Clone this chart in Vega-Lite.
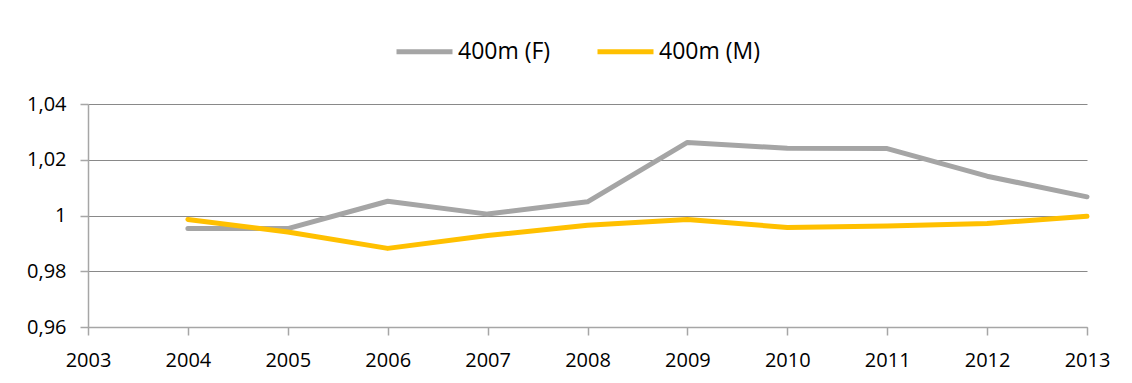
{
  "$schema": "https://vega.github.io/schema/vega-lite/v6.json",
  "width": 999,
  "height": 223,
  "autosize": {"type": "none"},
  "padding": {"left": 88, "top": 104, "right": 45, "bottom": 56},
  "background": "white",
  "data": {
    "values": [
      {"year": 2004, "series": "400m (F)", "value": 0.9953},
      {"year": 2005, "series": "400m (F)", "value": 0.9953},
      {"year": 2006, "series": "400m (F)", "value": 1.0051},
      {"year": 2007, "series": "400m (F)", "value": 1.0005},
      {"year": 2008, "series": "400m (F)", "value": 1.0049},
      {"year": 2009, "series": "400m (F)", "value": 1.0262},
      {"year": 2010, "series": "400m (F)", "value": 1.0241},
      {"year": 2011, "series": "400m (F)", "value": 1.0240},
      {"year": 2012, "series": "400m (F)", "value": 1.0141},
      {"year": 2013, "series": "400m (F)", "value": 1.0067},
      {"year": 2004, "series": "400m (M)", "value": 0.9986},
      {"year": 2005, "series": "400m (M)", "value": 0.9941},
      {"year": 2006, "series": "400m (M)", "value": 0.9882},
      {"year": 2007, "series": "400m (M)", "value": 0.9928},
      {"year": 2008, "series": "400m (M)", "value": 0.9965},
      {"year": 2009, "series": "400m (M)", "value": 0.9986},
      {"year": 2010, "series": "400m (M)", "value": 0.9957},
      {"year": 2011, "series": "400m (M)", "value": 0.9962},
      {"year": 2012, "series": "400m (M)", "value": 0.9971},
      {"year": 2013, "series": "400m (M)", "value": 0.9997}
    ]
  },
  "mark": {"type": "line", "strokeWidth": 5, "strokeCap": "round", "strokeJoin": "round"},
  "encoding": {
    "x": {
      "field": "year",
      "type": "quantitative",
      "scale": {"domain": [2003, 2013], "nice": false, "zero": false},
      "axis": {
        "values": [2003, 2004, 2005, 2006, 2007, 2008, 2009, 2010, 2011, 2012, 2013],
        "format": "d",
        "title": null,
        "grid": false,
        "domainColor": "#A6A6A6",
        "domainWidth": 1.5,
        "tickColor": "#A6A6A6",
        "tickWidth": 1.5,
        "tickSize": 8,
        "labelPadding": 15,
        "labelFont": "Open Sans",
        "labelFontSize": 20,
        "labelColor": "#000000",
        "labelFlush": false,
        "labelOverlap": false
      }
    },
    "y": {
      "field": "value",
      "type": "quantitative",
      "scale": {"domain": [0.96, 1.04], "nice": false, "zero": false},
      "axis": {
        "values": [0.96, 0.98, 1, 1.02, 1.04],
        "labelExpr": "replace(format(datum.value, '.2~f'), '.', ',')",
        "title": null,
        "grid": true,
        "gridColor": "#898989",
        "gridWidth": 1.2,
        "domainColor": "#A6A6A6",
        "domainWidth": 1.5,
        "tickColor": "#A6A6A6",
        "tickWidth": 1.5,
        "tickSize": 8,
        "labelPadding": 14,
        "labelFont": "Open Sans",
        "labelFontSize": 20,
        "labelColor": "#000000",
        "labelOverlap": false
      }
    },
    "color": {
      "field": "series",
      "type": "nominal",
      "scale": {"domain": ["400m (F)", "400m (M)"], "range": ["#A5A5A5", "#FFC000"]},
      "legend": {
        "title": null,
        "orient": "none",
        "direction": "horizontal",
        "legendX": 306,
        "legendY": -83,
        "padding": 0,
        "symbolType": "stroke",
        "symbolSize": 3136,
        "symbolStrokeWidth": 5,
        "labelFont": "Open Sans",
        "labelFontSize": 23,
        "labelColor": "#000000",
        "labelOffset": 3,
        "columnPadding": 36,
        "labelLimit": 300
      }
    }
  },
  "config": {"view": {"stroke": null}}
}
